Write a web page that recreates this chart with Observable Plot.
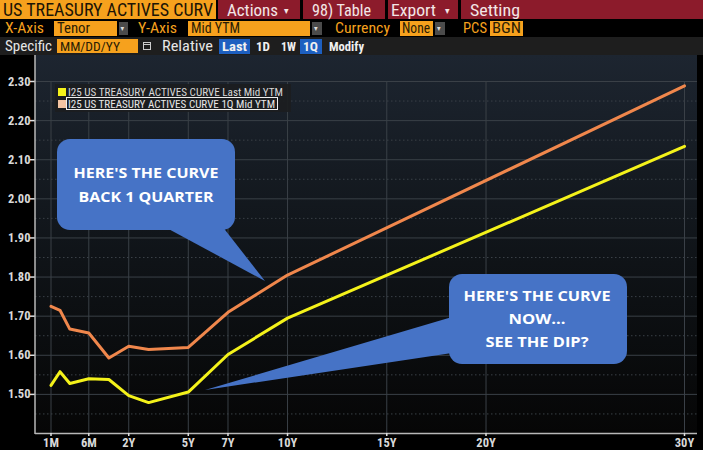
<!DOCTYPE html>
<html><head><meta charset="utf-8">
<script src="https://cdn.jsdelivr.net/npm/d3@7"></script>
<script src="https://cdn.jsdelivr.net/npm/@observablehq/plot@0.6"></script>
<style>
html,body{margin:0;padding:0;background:#000;width:703px;height:450px;overflow:hidden;}
#header{position:absolute;left:0;top:0;}
#chart{position:absolute;left:0;top:55px;}
#overlay{position:absolute;left:0;top:0;pointer-events:none;}
svg text{font-family:"Liberation Sans Narrow","Roboto Condensed","DejaVu Sans Condensed","Liberation Sans",sans-serif;}
</style></head><body>
<svg id="header" width="703" height="56"></svg>
<div id="chart"></div>
<svg id="overlay" width="703" height="450"></svg>
<script>
// ---- data ----
const tenorLabels = ["1M","2M","3M","6M","1Y","2Y","3Y","5Y","7Y","10Y","30Y"];
const tenorYears  = [1/12, 2/12, 3/12, 0.5, 1, 2, 3, 5, 7, 10, 30];
const lastMidYTM  = [1.523,1.558,1.528,1.540,1.538,1.497,1.479,1.506,1.602,1.695,2.134];
const q1MidYTM    = [1.725,1.715,1.667,1.657,1.593,1.623,1.615,1.620,1.710,1.805,2.289];
const xTickLabels = ["1M","6M","2Y","5Y","7Y","10Y","15Y","20Y","30Y"];
const xTickYears  = [1/12, 0.5, 2, 5, 7, 10, 15, 20, 30];
const yTicks      = [1.50,1.60,1.70,1.80,1.90,2.00,2.10,2.20,2.30];
const yMinor      = [1.45,1.55,1.65,1.75,1.85,1.95,2.05,2.15,2.25];
const seriesNames = ["I25 US TREASURY ACTIVES CURVE Last Mid YTM","I25 US TREASURY ACTIVES CURVE 1Q Mid YTM"];
const seriesColors = ["#f4f21a","#f0874c"];
const swatchColors = ["#f4f21a","#f3c4a3"];

const rows = [];
tenorYears.forEach((t,i)=>{
  rows.push({series:"Last", tenor:tenorLabels[i], t, y:lastMidYTM[i]});
  rows.push({series:"1Q", tenor:tenorLabels[i], t, y:q1MidYTM[i]});
});

const W = 703, H = 395, mL = 35, mR = 6, mT = 26, mB = 17;
const frameW = W - mL - mR, frameH = H - mT - mB;
const grid = "#3a4047";
const labelColor = "#d9d9d9";
const font = '"Liberation Sans Narrow","Roboto Condensed","DejaVu Sans Condensed","Liberation Sans",sans-serif';

const chart = Plot.plot({
  width: W, height: H,
  marginLeft: mL, marginRight: mR, marginTop: mT, marginBottom: mB,
  style: {background: "transparent", fontFamily: font},
  x: {type: "linear", domain: [1/12, 2/12, 3/12, 0.5, 1, 30], range: [50.5, 59.5, 69.3, 88.3, 108.4, 684], axis: null},
  y: {domain: [1.40, 2.30], range: [H - mB, mT], axis: null},
  color: {domain: ["Last","1Q"], range: seriesColors},
  marks: [
    Plot.ruleY(yMinor, {y: d => d, stroke: grid, strokeDasharray: "1.5,2.5", strokeWidth: 1}),
    Plot.ruleY(yTicks, {y: d => d, stroke: grid, strokeWidth: 1}),
    Plot.ruleX(xTickYears, {x: d => d, stroke: grid, strokeWidth: 1}),
    Plot.ruleY([1.40], {y: d => d, stroke: "#b8b8b8", strokeWidth: 1.5}),
    Plot.tickY(yTicks, {y: d => d, stroke: "#e0e0e0", strokeWidth: 1.5, insetRight: frameW - 5, dx: -5}),
    Plot.tickX(xTickYears, {x: d => d, stroke: "#e0e0e0", strokeWidth: 1.5, insetTop: frameH - 3, dy: 3}),
    Plot.text(yTicks, {y: d => d, text: d => d.toFixed(2), frameAnchor: "left", textAnchor: "end", dx: -5,
      fill: labelColor, fontSize: 12.5, fontWeight: "bold"}),
    Plot.text(xTickYears, {x: d => d, text: (d, i) => xTickLabels[i], frameAnchor: "bottom", dy: 9, lineAnchor: "middle",
      fill: labelColor, fontSize: 12.5, fontWeight: "bold"}),
    Plot.line(rows, {x: "t", y: "y", z: "series", stroke: "series", strokeWidth: 3, strokeLinejoin: "round", strokeLinecap: "round"})
  ]
});
document.getElementById("chart").appendChild(chart);

// background gradient + y-axis line inside the Plot svg
const svg = d3.select(chart.tagName.toLowerCase() === "svg" ? chart : chart.querySelector("svg"));
const defs = svg.insert("defs", ":first-child");
const g = defs.append("linearGradient").attr("id","bgGrad").attr("x1",0).attr("y1",0).attr("x2",0).attr("y2",1);
g.append("stop").attr("offset","0%").attr("stop-color","#1d2530");
g.append("stop").attr("offset","55%").attr("stop-color","#0f1317");
g.append("stop").attr("offset","100%").attr("stop-color","#060606");
svg.insert("rect", "defs + *").attr("x", mL).attr("y", 0).attr("width", frameW).attr("height", H - mB).attr("fill", "url(#bgGrad)");
svg.append("line").attr("x1", mL).attr("x2", mL).attr("y1", 0).attr("y2", H - mB + 1).attr("stroke", "#b8b8b8").attr("stroke-width", 1.5);

// ---- header ----
const hd = d3.select("#header");
const orange = "#f6a11d", red = "#8c1b2b", blue = "#1d5fc0", dd = "#4b4b4b";
function rect(s, x, y, w, h, fill){ s.append("rect").attr("x",x).attr("y",y).attr("width",w).attr("height",h).attr("fill",fill); }
function txt(s, x, y, t, fill, size, len, extra){
  const e = s.append("text").attr("x",x).attr("y",y).text(t).attr("fill",fill).attr("font-size",size);
  if (len) e.attr("textLength",len).attr("lengthAdjust","spacingAndGlyphs");
  if (extra) extra(e);
  return e;
}
rect(hd,0,0,703,56,"#000");
// row 1
rect(hd,0,0,216,19,orange); txt(hd,3,16,"US TREASURY ACTIVES CURV","#1c1405",17.5,210);
rect(hd,218,0,82,19,red); txt(hd,227,15.5,"Actions","#f3e6e6",17,51); txt(hd,284,14,"▾","#f3e6e6",10);
rect(hd,303,0,82,19,red); txt(hd,312,15.5,"98) Table","#f3e6e6",17,59);
rect(hd,388,0,70,19,red); txt(hd,391,15.5,"Export","#f3e6e6",17,45); txt(hd,445,14,"▾","#f3e6e6",10);
rect(hd,461,0,242,19,red); txt(hd,470,15.5,"Setting","#f3e6e6",17,50);
// row 2
txt(hd,5,33,"X-Axis",orange,15,39);
rect(hd,54,21,63,15,orange); txt(hd,57,33,"Tenor","#2a1c04",15,33);
rect(hd,119,22,9,13,dd); txt(hd,120.5,31,"▾","#ddd",8);
txt(hd,138,33,"Y-Axis",orange,15,39);
rect(hd,188,21,122,15,orange); txt(hd,191,33,"Mid YTM","#2a1c04",15,49);
rect(hd,312,22,10,13,dd); txt(hd,314,31,"▾","#ddd",8);
txt(hd,335,33,"Currency",orange,15,55);
rect(hd,400,21,33,15,orange); txt(hd,402,33,"None","#2a1c04",15,28);
rect(hd,435,22,10,13,dd); txt(hd,437,31,"▾","#ddd",8);
txt(hd,463,33,"PCS",orange,15,24);
rect(hd,490,21,33,15,orange); txt(hd,492,33,"BGN","#2a1c04",15,29);
// row 3
rect(hd,0,37,703,18,"#1e1e1e");
txt(hd,5,51,"Specific","#e6e6e6",15,47);
rect(hd,57,39,81,14,orange); txt(hd,60,50.5,"MM/DD/YY","#2a1c04",13.5,60);
hd.append("rect").attr("x",143.5).attr("y",42.5).attr("width",7).attr("height",7).attr("fill","none").attr("stroke","#ccc").attr("stroke-width",1);
hd.append("line").attr("x1",143.5).attr("x2",150.5).attr("y1",44.5).attr("y2",44.5).attr("stroke","#ccc");
txt(hd,162,51,"Relative","#e6e6e6",15,51);
rect(hd,219,39,31,15,blue); txt(hd,222,50.5,"Last","#f0f0f0",13.5,25,e=>e.attr("font-weight","bold"));
txt(hd,256,50.5,"1D","#f0f0f0",13.5,14,e=>e.attr("font-weight","bold"));
txt(hd,281,50.5,"1W","#f0f0f0",13.5,15,e=>e.attr("font-weight","bold"));
rect(hd,300,39,22,15,blue); txt(hd,303,50.5,"1Q","#f0f0f0",13.5,15,e=>e.attr("font-weight","bold"));
txt(hd,329,50.5,"Modify","#f0f0f0",13.5,35,e=>e.attr("font-weight","bold"));

// ---- overlay: legend + callouts ----
const ov = d3.select("#overlay");
ov.append("rect").attr("x",55).attr("y",84).attr("width",236).attr("height",28).attr("fill","#1b1d20").attr("opacity",0.92);
ov.append("rect").attr("x",58).attr("y",88).attr("width",8).attr("height",8).attr("fill",swatchColors[0]);
ov.append("rect").attr("x",58).attr("y",100).attr("width",8).attr("height",8).attr("fill",swatchColors[1]);
ov.append("rect").attr("x",66.5).attr("y",97.5).attr("width",211).attr("height",12).attr("fill","none").attr("stroke","#f0f0f0").attr("stroke-width",1);
txt(ov,68,96,seriesNames[0],"#d8d8d8",10.5,215);
txt(ov,68,108,seriesNames[1],"#e8e8e8",10.5,207);

const cb = "#4673c6";
const cfont = '"Open Sans","Liberation Sans",sans-serif';
// callout 1
ov.append("path").attr("d","M163,226 L222,226 L265,281 Z").attr("fill",cb);
ov.append("rect").attr("x",57).attr("y",139).attr("width",178).attr("height",91).attr("rx",13).attr("fill",cb);
txt(ov,146,178,"HERE'S THE CURVE","#ffffff",14.5,145,e=>e.attr("text-anchor","middle").attr("font-weight","bold").style("font-family",cfont));
txt(ov,146,202,"BACK 1 QUARTER","#ffffff",14.5,135,e=>e.attr("text-anchor","middle").attr("font-weight","bold").style("font-family",cfont));
// callout 2
ov.append("path").attr("d","M205,390 L452,317 L452,353 Z").attr("fill",cb);
ov.append("rect").attr("x",449).attr("y",274).attr("width",178).attr("height",90).attr("rx",13).attr("fill",cb);
txt(ov,537,301,"HERE'S THE CURVE","#ffffff",14.5,147,e=>e.attr("text-anchor","middle").attr("font-weight","bold").style("font-family",cfont));
txt(ov,537,324,"NOW...","#ffffff",14.5,57,e=>e.attr("text-anchor","middle").attr("font-weight","bold").style("font-family",cfont));
txt(ov,537,347,"SEE THE DIP?","#ffffff",14.5,103,e=>e.attr("text-anchor","middle").attr("font-weight","bold").style("font-family",cfont));
</script>
</body></html>
